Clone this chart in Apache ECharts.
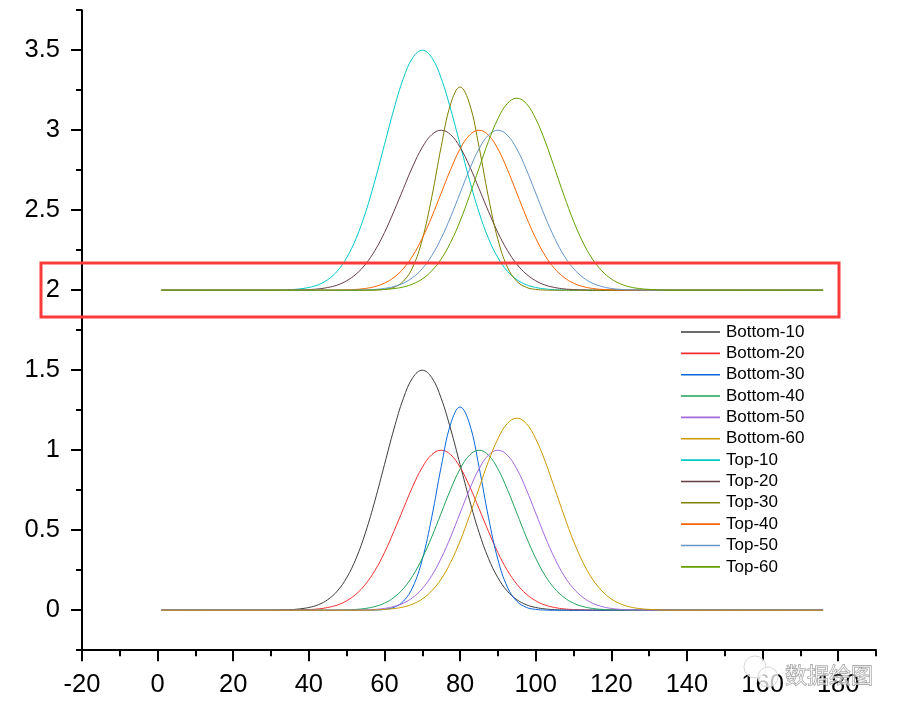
<!DOCTYPE html>
<html>
<head>
<meta charset="utf-8">
<title>Bottom / Top curves</title>
<style>html,body{margin:0;padding:0;background:#fff}#main{width:901px;height:715px}</style>
<script src="https://cdn.jsdelivr.net/npm/echarts@6/dist/echarts.min.js"></script>
</head>
<body>
<div id="main"></div>
<script>
// x positions shared by all curves (readings every 2.5 across the humps)
var xValues = [1,30,32.5,35,37.5,40,42.5,45,47.5,50,52.5,55,57.5,60,62.5,65,67.5,70,72.5,75,77.5,80,82.5,85,87.5,90,92.5,95,97.5,100,102.5,105,107.5,110,112.5,115,117.5,120,122.5,125,127.5,130,132.5,135,176];

var bottom10 = [0,0,.001,.003,.008,.017,.034,.066,.119,.203,.324,.487,.687,.91,1.132,1.324,1.454,1.5,1.454,1.324,1.132,.91,.687,.487,.324,.203,.119,.066,.034,.017,.008,.003,.001,0,0,0,0,0,0,0,0,0,0,0,0];
var bottom20 = [0,0,0,0,.002,.004,.008,.017,.032,.059,.101,.163,.249,.36,.493,.635,.775,.893,.972,1,.972,.893,.775,.635,.493,.36,.249,.163,.101,.059,.032,.017,.008,.004,.002,0,0,0,0,0,0,0,0,0,0];
var bottom30 = [0,0,0,0,0,0,0,0,0,0,0,0,.001,.005,.018,.056,.145,.317,.581,.897,1.164,1.27,1.164,.897,.581,.317,.145,.056,.018,.005,.001,0,0,0,0,0,0,0,0,0,0,0,0,0,0];
var bottom40 = [0,0,0,0,0,0,0,0,.001,.002,.005,.011,.023,.044,.08,.135,.216,.325,.458,.607,.755,.883,.969,1,.969,.883,.755,.607,.458,.325,.216,.135,.08,.044,.023,.011,.005,.002,.001,0,0,0,0,0,0];
var bottom50 = [0,0,0,0,0,0,0,0,0,0,.001,.002,.005,.011,.023,.044,.08,.135,.216,.325,.458,.607,.755,.883,.969,1,.969,.883,.755,.607,.458,.325,.216,.135,.08,.044,.023,.011,.005,.002,.001,0,0,0,0];
var bottom60 = [0,0,0,0,0,0,0,0,0,0,0,0,.002,.005,.01,.02,.039,.07,.121,.195,.299,.432,.591,.762,.93,1.071,1.167,1.2,1.167,1.071,.93,.762,.591,.432,.299,.195,.121,.07,.039,.02,.01,.005,.002,0,0];

var top10 = [2,2,2.001,2.003,2.008,2.017,2.034,2.066,2.119,2.203,2.324,2.487,2.687,2.91,3.132,3.324,3.454,3.5,3.454,3.324,3.132,2.91,2.687,2.487,2.324,2.203,2.119,2.066,2.034,2.017,2.008,2.003,2.001,2,2,2,2,2,2,2,2,2,2,2,2];
var top20 = [2,2,2,2,2.002,2.004,2.008,2.017,2.032,2.059,2.101,2.163,2.249,2.36,2.493,2.635,2.775,2.893,2.972,3,2.972,2.893,2.775,2.635,2.493,2.36,2.249,2.163,2.101,2.059,2.032,2.017,2.008,2.004,2.002,2,2,2,2,2,2,2,2,2,2];
var top30 = [2,2,2,2,2,2,2,2,2,2,2,2,2.001,2.005,2.018,2.056,2.145,2.317,2.581,2.897,3.164,3.27,3.164,2.897,2.581,2.317,2.145,2.056,2.018,2.005,2.001,2,2,2,2,2,2,2,2,2,2,2,2,2,2];
var top40 = [2,2,2,2,2,2,2,2,2.001,2.002,2.005,2.011,2.023,2.044,2.08,2.135,2.216,2.325,2.458,2.607,2.755,2.883,2.969,3,2.969,2.883,2.755,2.607,2.458,2.325,2.216,2.135,2.08,2.044,2.023,2.011,2.005,2.002,2.001,2,2,2,2,2,2];
var top50 = [2,2,2,2,2,2,2,2,2,2,2.001,2.002,2.005,2.011,2.023,2.044,2.08,2.135,2.216,2.325,2.458,2.607,2.755,2.883,2.969,3,2.969,2.883,2.755,2.607,2.458,2.325,2.216,2.135,2.08,2.044,2.023,2.011,2.005,2.002,2.001,2,2,2,2];
var top60 = [2,2,2,2,2,2,2,2,2,2,2,2,2.002,2.005,2.01,2.02,2.039,2.07,2.121,2.195,2.299,2.432,2.591,2.762,2.93,3.071,3.167,3.2,3.167,3.071,2.93,2.762,2.591,2.432,2.299,2.195,2.121,2.07,2.039,2.02,2.01,2.005,2.002,2,2];

var seriesNames = ['Bottom-10','Bottom-20','Bottom-30','Bottom-40','Bottom-50','Bottom-60','Top-10','Top-20','Top-30','Top-40','Top-50','Top-60'];
var seriesValues = [bottom10,bottom20,bottom30,bottom40,bottom50,bottom60,top10,top20,top30,top40,top50,top60];
var seriesColors = ['#3c3c3c','#f23030','#0a66dc','#22a25c','#a468dc','#cc9900','#00c8c8','#663c46','#808000','#fa6400','#6496c8','#64a000'];

var xTicks = [-20,0,20,40,60,80,100,120,140,160,180];
var xMinorTicks = [-10,10,30,50,70,90,110,130,150,170,190];
var yTicks = [0,0.5,1,1.5,2,2.5,3,3.5];
var yMinorTicks = [-0.25,0.25,0.75,1.25,1.75,2.25,2.75,3.25,3.75];

var chart = echarts.init(document.getElementById('main'));
var axisFont = 'Liberation Sans';

var series = seriesNames.map(function (name, i) {
  return {
    name: name,
    type: 'line',
    xAxisIndex: 0,
    yAxisIndex: 0,
    showSymbol: false,
    symbol: 'none',
    smooth: 0.4,
    silent: true,
    lineStyle: { color: seriesColors[i], width: 1 },
    itemStyle: { color: seriesColors[i] },
    data: xValues.map(function (x, j) { return [x, seriesValues[i][j]]; })
  };
});

var tickLine = { color: '#000', width: 2 };

chart.setOption({
  animation: false,
  backgroundColor: '#fff',
  grid: { left: 82, right: 25, top: 10.2, bottom: 64.8, containLabel: false },
  legend: {
    left: 676,
    top: 318.5,
    orient: 'vertical',
    itemWidth: 39,
    itemHeight: 14,
    itemGap: 4.35,
    icon: 'path://M0 0L1 0L1 0.04L0 0.04Z',
    textStyle: { fontFamily: axisFont, fontSize: 17, color: '#000', padding: [0, 0, 0, 1] },
    data: seriesNames
  },
  xAxis: [{
    type: 'value', position: 'bottom', min: -20, max: 190,
    splitLine: { show: false },
    axisLine: { onZero: false, lineStyle: tickLine },
    axisTick: { length: 11, lineStyle: tickLine, customValues: xTicks },
    axisLabel: { customValues: xTicks, margin: 22, fontFamily: axisFont, fontSize: 25.5, color: '#000' }
  }, {
    type: 'value', position: 'bottom', min: -20, max: 190,
    splitLine: { show: false },
    axisLine: { show: false, onZero: false },
    axisTick: { length: 6, lineStyle: tickLine, customValues: xMinorTicks },
    axisLabel: { show: false }
  }],
  yAxis: [{
    type: 'value', position: 'left', min: -0.25, max: 3.75,
    splitLine: { show: false },
    axisLine: { onZero: false, lineStyle: tickLine },
    axisTick: { length: 11, lineStyle: tickLine, customValues: yTicks },
    axisLabel: { customValues: yTicks, margin: 22, padding: [4, 0, 0, 0], fontFamily: axisFont, fontSize: 25.5, color: '#000' }
  }, {
    type: 'value', position: 'left', min: -0.25, max: 3.75,
    splitLine: { show: false },
    axisLine: { show: false, onZero: false },
    axisTick: { length: 6, lineStyle: tickLine, customValues: yMinorTicks },
    axisLabel: { show: false }
  }],
  series: series,
  graphic: [
    // red highlight box around the 2 level
    { type: 'rect', z: 20, silent: true, shape: { x: 41, y: 263, width: 798, height: 54 },
      style: { fill: 'none', stroke: '#fb3a3a', lineWidth: 3 } },
    // watermark
    { type: 'circle', z: 21, silent: true, shape: { cx: 755, cy: 667, r: 11 },
      style: { fill: 'rgba(255,255,255,0.75)', stroke: '#d8d8d8', lineWidth: 1 } },
    { type: 'circle', z: 21, silent: true, shape: { cx: 768, cy: 677, r: 10 },
      style: { fill: 'rgba(255,255,255,0.75)', stroke: '#d8d8d8', lineWidth: 1 } },
    { type: 'text', z: 21, silent: true, x: 785, y: 664,
      style: { text: '数据绘图', fontFamily: 'Noto Sans CJK SC', fontSize: 22, fill: 'rgba(255,255,255,0.55)', stroke: '#8c8c8c', lineWidth: 0.8 } }
  ]
});
</script>
</body>
</html>
